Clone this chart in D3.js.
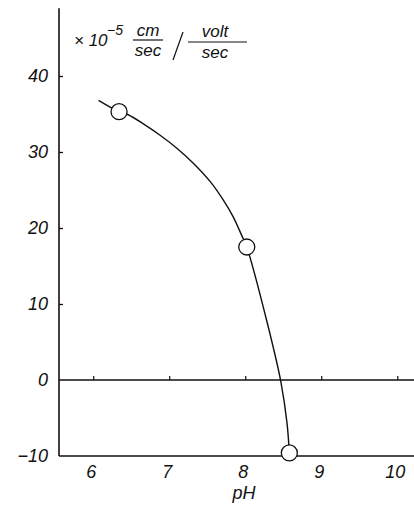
<!DOCTYPE html>
<html>
<head>
<meta charset="utf-8">
<script src="https://cdn.jsdelivr.net/npm/d3@7"></script>
<style>
  html, body { margin: 0; padding: 0; background: #fff; }
  svg { display: block; }
  text { font-family: "Liberation Sans", "DejaVu Sans", sans-serif; font-style: italic; font-weight: 400; fill: #111; }
</style>
</head>
<body>
<svg id="chart" width="414" height="506"></svg>
<script>
// Measured mobility (x10^-5 cm/sec per volt/sec) against pH
const measuredPH = [6.34, 8.02, 8.58];
const measuredMobility = [35.3, 17.5, -9.6];

// Hand-fitted smooth curve through the measurements
const curvePH = [6.07, 6.34, 6.46, 6.66, 6.88, 7.10, 7.32, 7.54, 7.71, 7.84, 7.95, 8.02, 8.29, 8.47, 8.55, 8.58];
const curveMobility = [36.8, 35.3, 34.9, 33.7, 32.2, 30.5, 28.5, 26.1, 23.7, 21.5, 19.1, 17.5, 7.5, -0.3, -5.7, -9.6];

const xTicks = [6, 7, 8, 9, 10];
const yTicks = [40, 30, 20, 10, 0, -10];

const svg = d3.select("#chart");

const x = d3.scaleLinear().domain([5.55, 10.22]).range([59, 414]);
const y = d3.scaleLinear().domain([-10, 40]).range([456, 76]);

const ink = "#111";

// Vertical axis
svg.append("line")
  .attr("x1", x(5.55)).attr("x2", x(5.55))
  .attr("y1", y(48.9)).attr("y2", y(-10))
  .attr("stroke", ink).attr("stroke-width", 1.6);

// Zero line and bottom line across the full width
[0, -10].forEach(v => {
  svg.append("line")
    .attr("x1", x(5.55)).attr("x2", x(10.22))
    .attr("y1", y(v)).attr("y2", y(v))
    .attr("stroke", ink).attr("stroke-width", 1.6);
});

// Y ticks pointing inward, with labels
const yAxis = d3.axisRight(y).tickValues(yTicks.filter(v => v > 0)).tickSize(4).tickFormat("");
svg.append("g")
  .attr("transform", `translate(${x(5.55)},0)`)
  .call(yAxis)
  .call(g => g.select(".domain").remove())
  .call(g => g.selectAll("line").attr("stroke", ink).attr("stroke-width", 1.3));

svg.append("g").selectAll("text")
  .data(yTicks)
  .join("text")
  .attr("x", 48)
  .attr("y", d => y(d))
  .attr("dy", "0.35em")
  .attr("text-anchor", "end")
  .attr("font-size", 18)
  .text(d => d === -10 ? "\u221210" : d);

// X ticks on the zero line, pointing upward
const xAxis = d3.axisTop(x).tickValues(xTicks).tickSize(4).tickFormat("");
svg.append("g")
  .attr("transform", `translate(0,${y(0)})`)
  .call(xAxis)
  .call(g => g.select(".domain").remove())
  .call(g => g.selectAll("line").attr("stroke", ink).attr("stroke-width", 1.2));

svg.append("g").selectAll("text")
  .data(xTicks)
  .join("text")
  .attr("x", d => x(d) - 2)
  .attr("y", 472)
  .attr("dy", "0.35em")
  .attr("text-anchor", "middle")
  .attr("font-size", 18)
  .text(d => d);

svg.append("text")
  .attr("x", 244).attr("y", 493)
  .attr("dy", "0.35em")
  .attr("text-anchor", "middle")
  .attr("font-size", 18)
  .text("pH");

// Unit label: x 10^-5 (cm/sec) / (volt/sec)
const unit = svg.append("g");
unit.append("text").attr("x", 74).attr("y", 46).attr("font-size", 17).text("\u00d7 10");
unit.append("text").attr("x", 107).attr("y", 35).attr("font-size", 14).text("\u22125");
unit.append("text").attr("x", 148).attr("y", 36).attr("text-anchor", "middle").attr("font-size", 17).text("cm");
unit.append("line").attr("x1", 133).attr("x2", 163).attr("y1", 40).attr("y2", 40).attr("stroke", ink).attr("stroke-width", 1.2);
unit.append("text").attr("x", 148).attr("y", 56).attr("text-anchor", "middle").attr("font-size", 17).text("sec");
unit.append("line").attr("x1", 173).attr("x2", 183).attr("y1", 60).attr("y2", 32).attr("stroke", ink).attr("stroke-width", 1.2);
unit.append("text").attr("x", 215).attr("y", 37).attr("text-anchor", "middle").attr("font-size", 17).text("volt");
unit.append("line").attr("x1", 188).attr("x2", 247).attr("y1", 42).attr("y2", 42).attr("stroke", ink).attr("stroke-width", 1.2);
unit.append("text").attr("x", 215).attr("y", 58).attr("text-anchor", "middle").attr("font-size", 17).text("sec");

// Fitted curve
const curveData = curvePH.map((p, i) => [p, curveMobility[i]]);
svg.append("path")
  .datum(curveData)
  .attr("fill", "none")
  .attr("stroke", ink)
  .attr("stroke-width", 1.4)
  .attr("d", d3.line().x(d => x(d[0])).y(d => y(d[1])).curve(d3.curveCatmullRom.alpha(0.5)));

// Measured points as open circles
svg.append("g").selectAll("circle")
  .data(measuredPH.map((p, i) => [p, measuredMobility[i]]))
  .join("circle")
  .attr("cx", d => x(d[0]))
  .attr("cy", d => y(d[1]))
  .attr("r", 8)
  .attr("fill", "#fff")
  .attr("stroke", ink)
  .attr("stroke-width", 1.3);
</script>
</body>
</html>
